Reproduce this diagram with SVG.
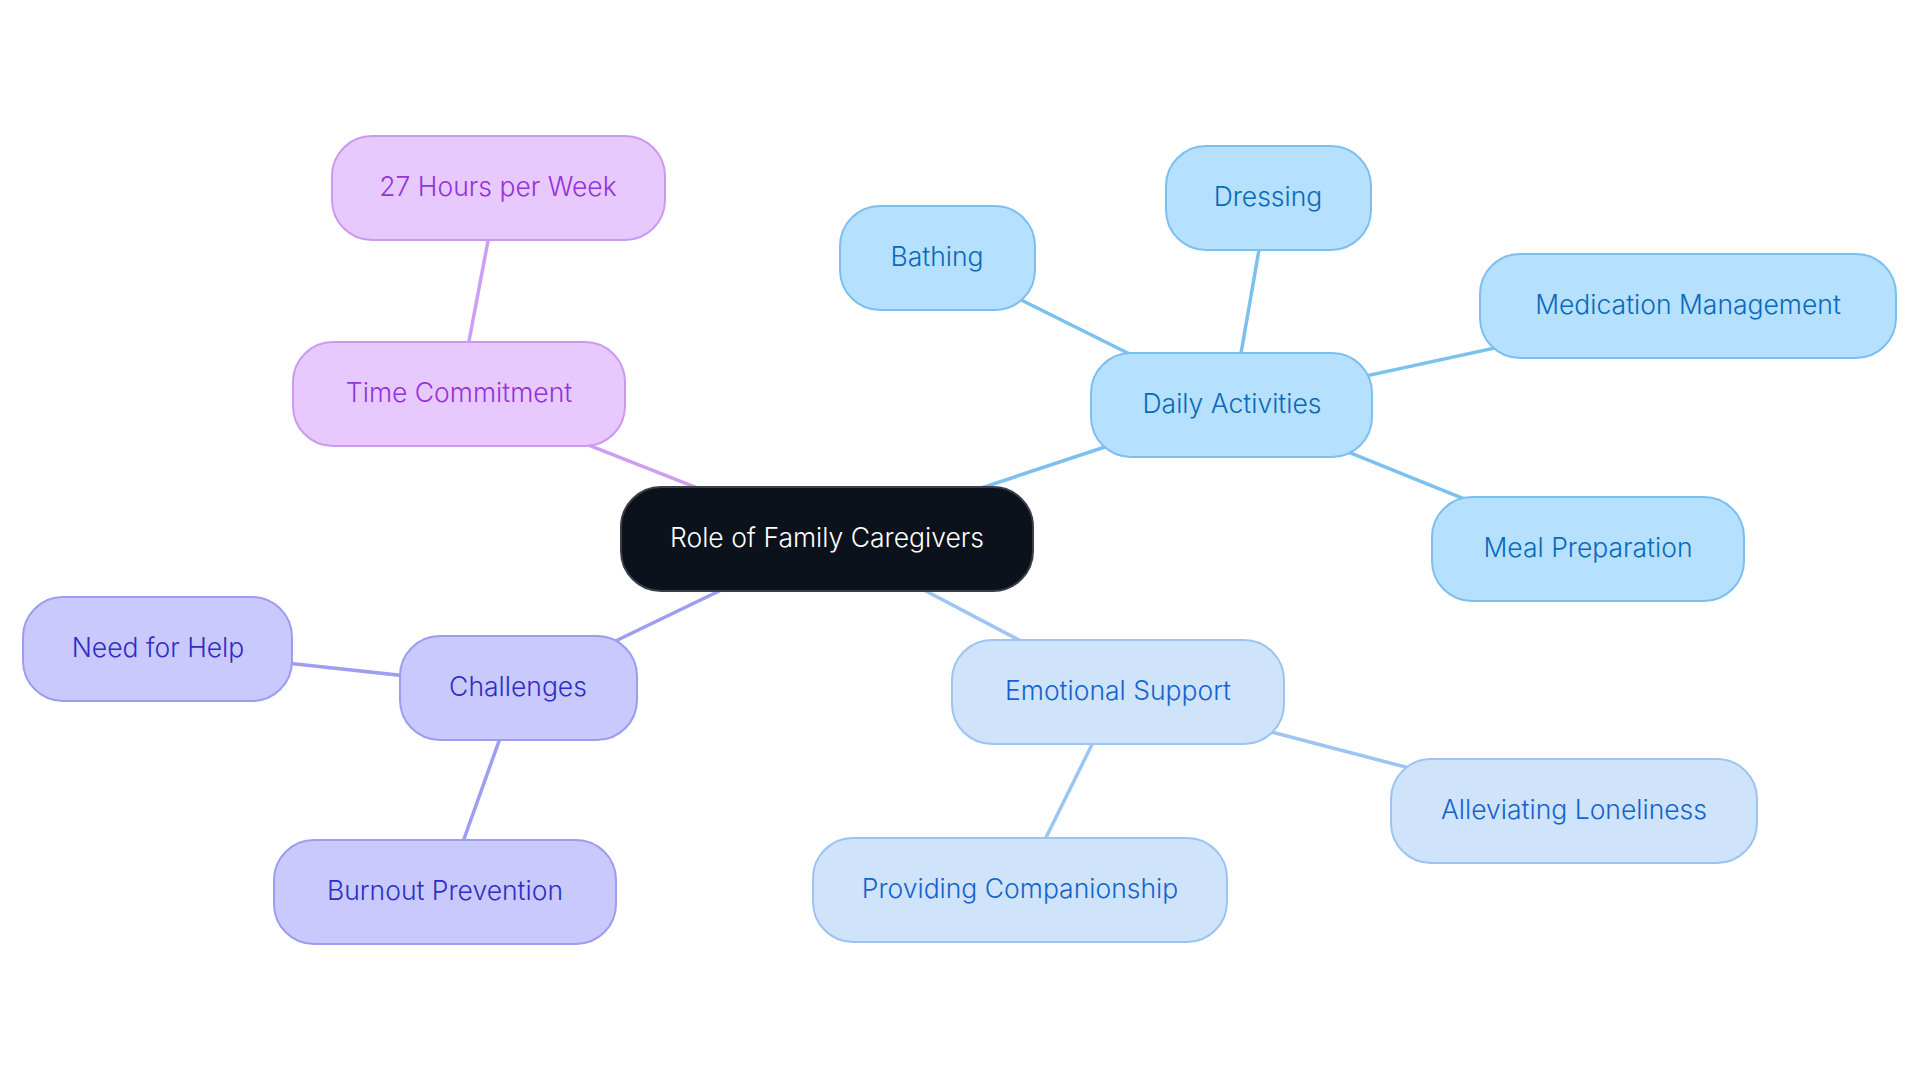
<svg xmlns="http://www.w3.org/2000/svg" width="1920" height="1083" viewBox="0 0 1920 1083">
<style>
  text { font-family: Inter, "Noto Sans", "Liberation Sans", sans-serif; font-size: 26.5px; font-weight: 350; text-anchor: middle; }
  .n rect { stroke-width: 2; }
  .root rect { fill: #0c121b; stroke: #3a3f47; }
  .root text { fill: #ffffff; }
  .pur rect { fill: #e8c9fe; stroke: #cc98f2; }
  .pur text { fill: #9333d8; }
  .blu rect { fill: #b5e0fe; stroke: #7cbff0; }
  .blu text { fill: #0a69b8; }
  .lav rect { fill: #c9c9fd; stroke: #9c9cf0; }
  .lav text { fill: #2e2ec4; }
  .pal rect { fill: #cfe3fb; stroke: #9dc3f0; }
  .pal text { fill: #1463cc; }
  #connectors line { stroke-width: 3.5; stroke-linecap: round; }
  .c-pur { stroke: #cd9ef4; }
  .c-blu { stroke: #7cc0ef; }
  .c-lav { stroke: #9d9df1; }
  .c-pal { stroke: #9cc5f1; }
</style>
<rect width="1920" height="1083" fill="#ffffff"/>
<g id="connectors">
  <line class="c-pur" x1="827" y1="539" x2="459" y2="394"/>
  <line class="c-pur" x1="459" y1="394" x2="498" y2="188"/>
  <line class="c-blu" x1="827" y1="539" x2="1232" y2="405"/>
  <line class="c-blu" x1="1232" y1="405" x2="937" y2="258"/>
  <line class="c-blu" x1="1232" y1="405" x2="1268" y2="198"/>
  <line class="c-blu" x1="1232" y1="405" x2="1688" y2="306"/>
  <line class="c-blu" x1="1232" y1="405" x2="1588" y2="549"/>
  <line class="c-lav" x1="827" y1="539" x2="518" y2="688"/>
  <line class="c-lav" x1="518" y1="688" x2="158" y2="649"/>
  <line class="c-lav" x1="518" y1="688" x2="445" y2="892"/>
  <line class="c-pal" x1="827" y1="539" x2="1118" y2="692"/>
  <line class="c-pal" x1="1118" y1="692" x2="1020" y2="890"/>
  <line class="c-pal" x1="1118" y1="692" x2="1574" y2="811"/>
</g>
<g id="node-root" class="n root">
  <rect x="621" y="487" width="412" height="104" rx="40"/>
  <text x="827" y="547">Role of Family Caregivers</text>
</g>
<g id="node-time" class="n pur">
  <rect x="293" y="342" width="332" height="104" rx="40"/>
  <text x="459" y="402">Time Commitment</text>
</g>
<g id="node-hours" class="n pur">
  <rect x="332" y="136" width="333" height="104" rx="40"/>
  <text x="498" y="196">27 Hours per Week</text>
</g>
<g id="node-daily" class="n blu">
  <rect x="1091" y="353" width="281" height="104" rx="40"/>
  <text x="1232" y="413">Daily Activities</text>
</g>
<g id="node-bathing" class="n blu">
  <rect x="840" y="206" width="195" height="104" rx="40"/>
  <text x="937" y="266">Bathing</text>
</g>
<g id="node-dressing" class="n blu">
  <rect x="1166" y="146" width="205" height="104" rx="40"/>
  <text x="1268" y="206">Dressing</text>
</g>
<g id="node-medication" class="n blu">
  <rect x="1480" y="254" width="416" height="104" rx="40"/>
  <text x="1688" y="314">Medication Management</text>
</g>
<g id="node-meal" class="n blu">
  <rect x="1432" y="497" width="312" height="104" rx="40"/>
  <text x="1588" y="557">Meal Preparation</text>
</g>
<g id="node-challenges" class="n lav">
  <rect x="400" y="636" width="237" height="104" rx="40"/>
  <text x="518" y="696">Challenges</text>
</g>
<g id="node-help" class="n lav">
  <rect x="23" y="597" width="269" height="104" rx="40"/>
  <text x="158" y="657">Need for Help</text>
</g>
<g id="node-burnout" class="n lav">
  <rect x="274" y="840" width="342" height="104" rx="40"/>
  <text x="445" y="900">Burnout Prevention</text>
</g>
<g id="node-emotional" class="n pal">
  <rect x="952" y="640" width="332" height="104" rx="40"/>
  <text x="1118" y="700">Emotional Support</text>
</g>
<g id="node-companionship" class="n pal">
  <rect x="813" y="838" width="414" height="104" rx="40"/>
  <text x="1020" y="898">Providing Companionship</text>
</g>
<g id="node-loneliness" class="n pal">
  <rect x="1391" y="759" width="366" height="104" rx="40"/>
  <text x="1574" y="819">Alleviating Loneliness</text>
</g>
</svg>
